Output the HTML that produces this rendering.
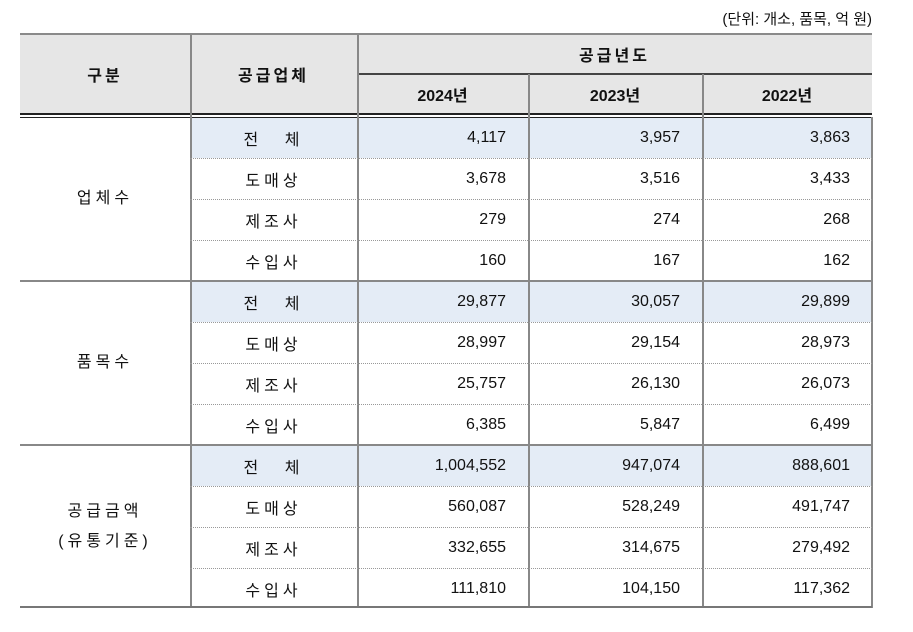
<!DOCTYPE html>
<html><head><meta charset="utf-8"><style>
body{margin:0;width:913px;height:632px;background:#fff;font-family:"Liberation Sans","Noto Sans CJK KR",sans-serif;color:#111;position:relative;overflow:hidden}
.a{position:absolute;box-sizing:border-box}
.c{display:flex;align-items:center;justify-content:center}
.r{display:flex;align-items:center;justify-content:flex-end;padding-right:22px}
.h{font-weight:bold;font-size:16px;letter-spacing:3px}
.t{font-size:16px;letter-spacing:4px}
.n{font-size:16px}
</style></head><body>
<div class="a" style="left:600px;top:8px;width:272px;text-align:right;font-size:15px;">(단위: 개소, 품목, 억 원)</div>
<div class="a" style="left:20px;top:33px;width:852px;height:82px;background:#e6e6e6;border-top:2px solid #8a8a8a"></div>
<div class="a" style="left:20px;top:113px;width:852px;height:5px;border-top:2px solid #222;border-bottom:1px solid #222"></div>
<div class="a" style="left:357px;top:73px;width:515px;height:1.5px;background:#444"></div>
<div class="a c h" style="left:20px;top:35px;width:170px;height:78px">구분</div>
<div class="a c h" style="left:190px;top:35px;width:167px;height:78px">공급업체</div>
<div class="a c h" style="left:357px;top:35px;width:515px;height:38px">공급년도</div>
<div class="a c h" style="left:357px;top:74px;width:171px;height:39px;letter-spacing:0">2024년</div>
<div class="a c h" style="left:528px;top:74px;width:174px;height:39px;letter-spacing:0">2023년</div>
<div class="a c h" style="left:702px;top:74px;width:170px;height:39px;letter-spacing:0">2022년</div>
<div class="a" style="left:190px;top:35px;width:1.5px;height:573px;background:#888"></div>
<div class="a" style="left:357px;top:35px;width:1.5px;height:573px;background:#888"></div>
<div class="a" style="left:528px;top:74px;width:1.5px;height:534px;background:#888"></div>
<div class="a" style="left:702px;top:74px;width:1.5px;height:534px;background:#888"></div>
<div class="a" style="left:871px;top:117px;width:1.5px;height:491px;background:#888"></div>
<div id="body"></div>
<div class="a" style="left:20px;top:606px;width:852px;height:2px;background:#777"></div>
<script>
const groups=["업체수","품목수","공급금액<br>(유통기준)"];
const subs=["전 체","도매상","제조사","수입사"];
const v2024=[[4117,3678,279,160],[29877,28997,25757,6385],[1004552,560087,332655,111810]];
const v2023=[[3957,3516,274,167],[30057,29154,26130,5847],[947074,528249,314675,104150]];
const v2022=[[3863,3433,268,162],[29899,28973,26073,6499],[888601,491747,279492,117362]];
const body=document.getElementById('body');
const top0=117,gh=164,rh=41;
const cols=[[357,171],[528,174],[702,170]];
function mk(css,cls,html,name){const d=document.createElement('div');d.className='a '+cls;d.style.cssText=css;d.innerHTML=html;


body.appendChild(d);return d;}
groups.forEach((g,gi)=>{
 const gy=top0+gi*gh;
 if(gi>0) mk(`left:20px;top:${gy-1}px;width:852px;height:1.5px;background:#888`,'','','group-separator');
 mk(`left:20px;top:${gy}px;width:170px;height:${gh}px;text-align:center;line-height:30px;flex-direction:column`,'c t',g,'group-label');
 subs.forEach((s,si)=>{
  const y=gy+si*rh;
  if(si==0) mk(`left:191px;top:${y}px;width:681px;height:${rh}px;background:#e4ecf6;z-index:-1`,'','','total-row-bg');
  if(si>0) mk(`left:190px;top:${y}px;width:682px;height:0;border-top:1px dotted #999`,'','','row-divider');
  mk(`left:190px;top:${y}px;width:167px;height:${rh}px;${si==0?'word-spacing:14px':''}`,'c t',s,'supplier-label');
  [v2024,v2023,v2022].forEach((arr,ci)=>{
   mk(`left:${cols[ci][0]}px;top:${y}px;width:${cols[ci][1]}px;height:${rh}px`,'r n',arr[gi][si].toLocaleString('en-US'),'value-cell');
  });
 });
});
</script>
</body></html>
